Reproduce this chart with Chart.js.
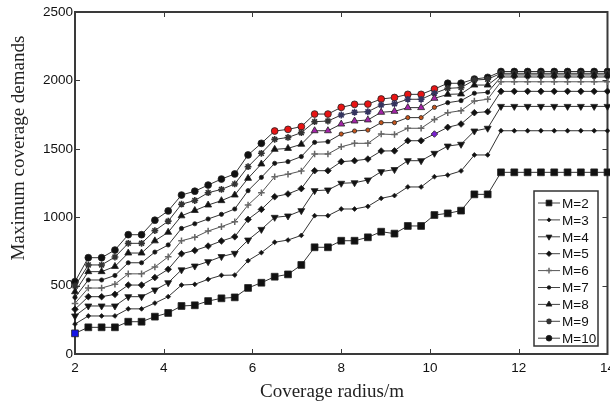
<!DOCTYPE html>
<html>
<head>
<meta charset="utf-8">
<script src="https://cdn.jsdelivr.net/npm/chart.js"></script>
<style>
  html, body { margin: 0; padding: 0; background: #fff; overflow: hidden; }
  #wrap { position: relative; width: 621px; height: 403px; }
</style>
</head>
<body>
<div id="wrap"><canvas id="coverageChart"></canvas></div>
<script>
(function() {
  'use strict';

  // Coverage radius (m), one point every 0.3 m
  const radii = [2, 2.3, 2.6, 2.9, 3.2, 3.5, 3.8, 4.1, 4.4, 4.7, 5, 5.3, 5.6, 5.9, 6.2, 6.5, 6.8,
    7.1, 7.4, 7.7, 8, 8.3, 8.6, 8.9, 9.2, 9.5, 9.8, 10.1, 10.4, 10.7, 11, 11.3, 11.6,
    11.9, 12.2, 12.5, 12.8, 13.1, 13.4, 13.7, 14];

  const m2 = [151, 195, 195, 195, 236, 236, 273, 300, 351, 356, 387, 407, 414, 483, 521, 565, 582,
    651, 780, 780, 828, 828, 853, 894, 880, 936, 936, 1016, 1028, 1048, 1167, 1167, 1328,
    1328, 1328, 1328, 1328, 1328, 1328, 1328, 1328];
  const m3 = [219, 278, 278, 278, 330, 330, 372, 419, 504, 509, 546, 575, 577, 682, 741, 817, 833,
    867, 1011, 1011, 1060, 1060, 1079, 1138, 1158, 1221, 1221, 1296, 1308, 1338, 1455, 1455, 1632,
    1632, 1632, 1632, 1632, 1632, 1632, 1632, 1632];
  const m4 = [278, 351, 351, 351, 419, 419, 468, 521, 615, 643, 675, 712, 736, 833, 911, 999, 1009,
    1048, 1194, 1199, 1248, 1252, 1272, 1333, 1348, 1413, 1413, 1467, 1520, 1533, 1630, 1650, 1810,
    1810, 1810, 1810, 1810, 1810, 1810, 1810, 1810];
  const m5 = [327, 419, 419, 436, 504, 504, 559, 619, 733, 757, 789, 826, 857, 984, 1057, 1150, 1170,
    1209, 1340, 1340, 1406, 1413, 1425, 1484, 1485, 1559, 1559, 1608, 1657, 1681, 1764, 1771, 1920,
    1920, 1920, 1920, 1920, 1920, 1920, 1920, 1920];
  const m6 = [370, 482, 482, 510, 586, 586, 636, 710, 828, 853, 899, 931, 967, 1089, 1179, 1296, 1314,
    1338, 1462, 1462, 1515, 1540, 1540, 1608, 1604, 1650, 1650, 1715, 1764, 1779, 1849, 1862, 1990,
    1990, 1990, 1990, 1990, 1990, 1990, 1990, 1990];
  const m7 = [414, 541, 541, 574, 667, 667, 745, 797, 918, 952, 987, 1021, 1060, 1194, 1291, 1394, 1406,
    1443, 1547, 1552, 1608, 1630, 1637, 1691, 1691, 1728, 1728, 1803, 1837, 1852, 1906, 1913, 2025,
    2025, 2025, 2025, 2025, 2025, 2025, 2025, 2025];
  const m8 = [455, 602, 602, 640, 738, 738, 827, 890, 1010, 1049, 1089, 1121, 1162, 1284, 1389, 1496, 1503,
    1533, 1632, 1632, 1681, 1703, 1711, 1767, 1774, 1801, 1801, 1869, 1898, 1901, 1966, 1966, 2040,
    2040, 2040, 2040, 2040, 2040, 2040, 2040, 2040];
  const m9 = [497, 651, 651, 709, 809, 809, 902, 971, 1095, 1122, 1179, 1203, 1243, 1369, 1467, 1569, 1583,
    1618, 1698, 1703, 1747, 1767, 1771, 1820, 1830, 1862, 1862, 1906, 1942, 1947, 2003, 2008, 2052,
    2052, 2052, 2052, 2052, 2052, 2052, 2052, 2052];
  const m10 = [529, 704, 704, 760, 872, 872, 978, 1046, 1162, 1190, 1235, 1279, 1316, 1455, 1540, 1630, 1642,
    1662, 1754, 1754, 1803, 1825, 1827, 1864, 1875, 1898, 1898, 1937, 1979, 1979, 2010, 2022, 2065,
    2065, 2065, 2065, 2065, 2065, 2065, 2065, 2065];

  const xTicks = [2, 4, 6, 8, 10, 12, 14];
  const yTicks = [0, 500, 1000, 1500, 2000, 2500];

  // marker look per series; some markers in the original are tinted
  const seriesConfig = [
    { label: 'M=2',  values: m2,  style: 'rect',     radius: 4.8, tint: { from: 0, to: 0, color: '#1414e6' } },
    { label: 'M=3',  values: m3,  style: 'rectRot',  radius: 2.4 },
    { label: 'M=4',  values: m4,  style: 'triangle', radius: 4, rotation: 180 },
    { label: 'M=5',  values: m5,  style: 'rectRot',  radius: 3.3, tint: { from: 27, to: 27, color: '#7a22d0' } },
    { label: 'M=6',  values: m6,  style: 'cross',    radius: 3.3, stroke: '#666', line: '#555', bw: 1.5 },
    { label: 'M=7',  values: m7,  style: 'circle',   radius: 2.1, tint: { from: 20, to: 27, color: '#c4551c' } },
    { label: 'M=8',  values: m8,  style: 'triangle', radius: 4, tint: { from: 18, to: 27, color: '#a424a8' } },
    { label: 'M=9',  values: m9,  style: 'star',     radius: 3.4, stroke: '#333', bw: 1.6,
      strokeTint: { from: 20, to: 27, color: '#34345e' } },
    { label: 'M=10', values: m10, style: 'circle',   radius: 3.4, tint: { from: 15, to: 27, color: '#e81414' } }
  ];

  const inRange = (r, i) => r && i >= r.from && i <= r.to;

  const datasets = seriesConfig.map(s => {
    const fills = s.values.map((v, i) => inRange(s.tint, i) ? s.tint.color : '#111');
    const strokes = s.values.map((v, i) => inRange(s.strokeTint, i) ? s.strokeTint.color : (s.stroke || '#222'));
    return {
      label: s.label,
      data: radii.map((r, i) => ({ x: r, y: s.values[i] })),
      borderColor: s.line || '#333',
      borderWidth: 1,
      pointStyle: s.style,
      pointRadius: s.radius,
      pointRotation: s.rotation || 0,
      pointBackgroundColor: fills,
      pointBorderColor: strokes,
      pointBorderWidth: s.bw || 0.8,
      fill: false,
      tension: 0,
      clip: false
    };
  });

  // frame with inward ticks, like the original figure
  const framePlugin = {
    id: 'frame',
    beforeDatasetsDraw(chart) {
      const { ctx, chartArea: a, scales } = chart;
      ctx.save();
      ctx.strokeStyle = '#3a3a3a';
      ctx.lineWidth = 2;
      ctx.strokeRect(a.left, a.top, a.right - a.left, a.bottom - a.top);
      ctx.lineWidth = 1;
      ctx.beginPath();
      xTicks.forEach(t => {
        const px = Math.round(scales.x.getPixelForValue(t)) + 0.5;
        ctx.moveTo(px, a.bottom); ctx.lineTo(px, a.bottom - 5);
        ctx.moveTo(px, a.top); ctx.lineTo(px, a.top + 5);
      });
      yTicks.forEach(t => {
        const py = Math.round(scales.y.getPixelForValue(t)) + 0.5;
        ctx.moveTo(a.left, py); ctx.lineTo(a.left + 5, py);
        ctx.moveTo(a.right, py); ctx.lineTo(a.right - 5, py);
      });
      ctx.stroke();
      ctx.restore();
    },
    afterDraw(chart) {
      const { ctx } = chart;
      ctx.save();
      ctx.fillStyle = '#222';
      ctx.font = '19px "Liberation Serif", "Times New Roman", serif';
      ctx.textAlign = 'center';
      ctx.textBaseline = 'middle';
      ctx.fillText('Coverage radius/m', 332, 392);
      ctx.translate(19, 148);
      ctx.rotate(-Math.PI / 2);
      ctx.fillText('Maximum coverage demands', 0, 0);
      ctx.restore();
    }
  };

  // legend box inside the plot, lower right
  const legendPlugin = {
    id: 'boxLegend',
    afterDraw(chart) {
      const { ctx } = chart;
      const box = { left: 534, top: 191, width: 64, height: 155 };
      const rowH = 16.9;
      ctx.save();
      ctx.fillStyle = '#fff';
      ctx.fillRect(box.left, box.top, box.width, box.height);
      ctx.strokeStyle = '#333';
      ctx.lineWidth = 1.5;
      ctx.strokeRect(box.left, box.top, box.width, box.height);
      ctx.font = '13.5px "Liberation Sans", Arial, sans-serif';
      ctx.textBaseline = 'middle';
      ctx.textAlign = 'left';
      seriesConfig.forEach((s, i) => {
        const y = box.top + 12 + i * rowH;
        ctx.strokeStyle = s.line || '#444';
        ctx.lineWidth = 1;
        ctx.beginPath();
        ctx.moveTo(538, y); ctx.lineTo(560, y);
        ctx.stroke();
        ctx.fillStyle = '#111';
        ctx.strokeStyle = s.stroke || '#222';
        ctx.lineWidth = s.bw || 0.8;
        Chart.helpers.drawPoint(ctx, {
          pointStyle: s.style,
          radius: s.radius * 0.85,
          rotation: s.rotation || 0,
          borderWidth: s.bw || 0.8
        }, 549, y);
        ctx.fillStyle = '#111';
        ctx.fillText(s.label, 562, y + 1);
      });
      ctx.restore();
    }
  };

  const tickFont = { family: '"Liberation Sans", Arial, sans-serif', size: 13.5 };

  new Chart(document.getElementById('coverageChart'), {
    type: 'line',
    data: { datasets: datasets },
    options: {
      responsive: true,
      maintainAspectRatio: false,
      animation: false,
      events: [],
      layout: { padding: { left: 0, top: 12, right: 10, bottom: 0 } },
      plugins: {
        legend: { display: false },
        tooltip: { enabled: false }
      },
      scales: {
        x: {
          type: 'linear',
          min: 2,
          max: 14,
          afterBuildTicks: scale => { scale.ticks = xTicks.map(v => ({ value: v })); },
          afterFit: scale => { scale.height = 49; },
          grid: { display: false, drawTicks: false },
          border: { display: false },
          ticks: { color: '#111', font: tickFont, padding: 6, maxRotation: 0, callback: v => String(v) }
        },
        y: {
          min: 0,
          max: 2500,
          afterBuildTicks: scale => { scale.ticks = yTicks.map(v => ({ value: v })); },
          afterFit: scale => { scale.width = 75; },
          grid: { display: false, drawTicks: false },
          border: { display: false },
          ticks: { color: '#111', font: tickFont, padding: 2, callback: v => String(v) }
        }
      }
    },
    plugins: [framePlugin, legendPlugin]
  });
})();
</script>
</body>
</html>
